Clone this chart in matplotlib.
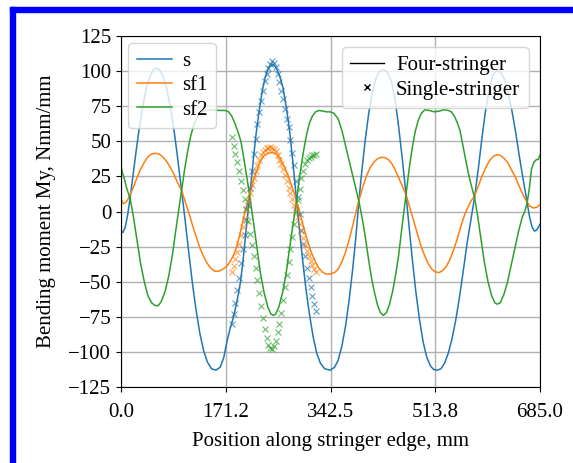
import matplotlib
matplotlib.use("Agg")
import matplotlib.pyplot as plt
from matplotlib.lines import Line2D
from matplotlib.patches import Rectangle

plt.rcParams["font.family"] = ["Liberation Serif", "DejaVu Serif"]
plt.rcParams["font.size"] = 15

# four-stringer model (mm, Nmm/mm)
s_x = [0, 3, 7, 11, 15, 20, 25, 30, 36, 42, 48, 53, 58,
       63, 68, 74, 80, 86, 92, 99, 105, 111, 117, 123, 129, 135, 141, 148, 155,
       162, 168, 173, 178, 184, 190, 195, 199, 203, 206, 209, 213, 217, 221, 226, 231, 236, 241, 247,
       253, 259, 265, 271, 276, 281, 287, 292, 297, 302, 308, 314, 320, 326, 333, 342,
       349, 355, 361, 367, 373, 379, 384, 389, 394, 399, 405, 411, 417, 423, 430,
       436, 442, 448, 454, 460, 466, 471, 476, 482, 488, 494, 500, 506, 511, 517,
       523, 529, 535, 541, 547, 553, 559, 566, 572, 578, 584, 590, 596, 602, 608, 615,
       621, 627, 633, 639, 645, 651, 657, 663, 668, 672, 676, 680, 685]
s_y = [-14, -15, -11, -2, 10, 27, 44, 60, 76, 89, 97, 101, 102,
       101, 97, 89, 76, 60, 40, 15, -7, -30, -52, -71, -87, -99, -107, -112, -113,
       -111, -104, -93, -84, -75, -63, -51, -37, -20, -7, 6, 22, 40, 56, 72, 86, 96, 102, 105,
       103, 97, 88, 72, 56, 35, 8, -14, -35, -54, -73, -89, -101, -108, -112, -113,
       -111, -106, -96, -82, -63, -40, -18, 8, 30, 50, 70, 85, 95, 100, 101,
       99, 93, 80, 60, 37, 12, -11, -33, -57, -77, -93, -104, -110, -112.5, -113,
       -112, -108, -101, -91, -78, -62, -44, -22, -6, 10, 30, 52, 72, 87, 97, 101,
       99, 94, 85, 72, 57, 40, 24, 9, -4, -11, -14, -13, -9]

sf1_x = [0, 4, 9, 14, 20, 26, 32, 38, 44, 50, 56, 62, 68, 74, 80, 86, 92, 99,
         105, 111, 117, 123, 129, 135, 141, 147, 153, 159, 165, 173, 180, 187, 194,
         200, 205, 209, 215, 221, 227, 233, 240, 247, 254, 261, 267, 273, 280, 287,
         293, 299, 305, 311, 317, 323, 329, 335, 342, 349, 355, 361, 367, 373, 380,
         386, 389, 395, 401, 407, 413, 419, 425, 431, 437, 443, 449, 455, 461, 466,
         472, 478, 484, 490, 496, 502, 508, 514, 520, 526, 532, 538, 544, 550, 556,
         562, 568, 573, 578, 584, 590, 596, 602, 608, 614, 620, 626, 632, 638, 644,
         650, 656, 662, 668, 674, 680, 685]
sf1_y = [9, 5.5, 7, 11, 17, 24, 30, 35, 39, 41, 41.5, 41, 39, 36, 32, 27, 21, 15,
         7, -1, -10, -18, -26, -32, -37, -40.5, -42.5, -42.5, -41.5, -39, -34.5, -28, -17,
         -5, 3, 10, 20, 28, 35, 39.5, 41.5, 42, 41, 37, 32, 26, 17, 8,
         -2, -12, -21, -29, -35, -40, -43, -44.5, -44.5, -43.5, -41, -36, -29, -20, -8,
         3, 8, 17, 25, 31, 35, 37.5, 38.5, 38.5, 37, 34, 29, 23, 17, 12,
         3, -6, -15, -24, -31, -37, -41, -43, -43.5, -42, -39, -34, -27, -19, -10,
         -2, 4, 8, 11, 18, 25, 31, 36, 39, 40.5, 40, 38, 35, 30, 25,
         19, 13, 8, 4, 2.5, 3, 5]

sf2_x = [0, 2, 5, 9, 15, 20, 26, 32, 38, 44, 50, 56, 61, 66, 72, 78, 84, 90, 95, 99,
         104, 109, 114, 120, 126, 132, 140, 150, 160, 170, 176, 181, 186, 191, 196,
         200, 204, 208, 211, 217, 223, 228, 234, 240, 245, 249, 253, 258, 264, 270,
         275, 281, 287, 292, 298, 303, 308, 313, 318, 324, 330, 336, 342, 348, 355,
         361, 367, 373, 379, 384, 389, 394, 399, 404, 409, 414, 419, 424, 429, 434,
         439, 444, 449, 454, 458, 462, 466, 471, 476, 481, 486, 491, 497, 504, 512,
         520, 528, 535, 540, 545, 550, 554, 558, 563, 568, 573, 578, 583, 588, 594,
         600, 606, 611, 615, 620, 626, 632, 638, 644, 650, 656, 660, 664, 668, 671,
         675, 679, 682, 685]
sf2_y = [33, 28, 24, 17, 9, -3, -20, -37, -50, -60, -65, -67, -67, -64, -57, -46, -31, -12, 3, 15,
         30, 43, 54, 63, 68, 71, 72, 72.5, 72, 72, 71, 68, 63, 57, 50,
         40, 29, 18, 9, -9, -28, -44, -58, -68, -73, -74, -73, -68, -58, -44,
         -28, -10, 8, 25, 42, 54, 63, 68, 71, 72, 71.5, 71, 71, 70, 66,
         58, 47, 36, 25, 16, 7, -4, -17, -32, -46, -57, -66, -72, -74, -72,
         -66, -57, -45, -31, -16, -2, 12, 30, 45, 57, 65, 70, 72.5, 72, 71,
         71.5, 72.5, 72, 71, 68, 63, 58, 49, 38, 27, 18, 10, -3, -18, -36,
         -50, -60, -65, -66, -65, -59, -50, -38, -26, -14, -4, 0, 6, 18, 30,
         35, 37, 37, 40]

# single-stringer model
ss_x = [181, 184, 187, 190, 193, 196, 199, 202, 205, 208, 211, 214, 217, 220, 223, 226,
        229, 232, 235, 238, 241, 244, 247, 250, 253, 256, 259, 262, 265, 268, 271, 274,
        277, 280, 283, 286, 289, 292, 295, 298, 301, 304, 307, 310, 313, 316, 319]
ss_s = [-80, -73, -65, -56, -47, -37, -27, -17, -6, 5, 17, 29, 41, 52, 62, 71,
        79, 86, 93, 98, 102, 105, 107, 106, 103, 98, 92, 86, 80, 73, 66, 60,
        51, 42, 33, 22, 10, -2, -13, -23, -32, -40, -47, -54, -60, -66, -71]
ss_sf1 = [-43, -39, -34, -29, -23, -17, -11, -5, 1, 7, 13, 19, 24, 29, 33, 37,
          40, 42.5, 44, 45, 45.5, 46, 45.5, 44.5, 43, 40, 37, 34, 30, 26, 22, 17,
          13, 9, 5, 1, -4, -9, -14, -19, -24, -28, -32, -35, -38, -41, -43]
ss_sf2 = [53, 47, 41, 35, 29, 22, 15, 9, 2, -7, -16, -24, -32, -40, -49, -58,
          -67, -76, -84, -90, -95, -97.5, -98, -96, -92, -86, -80, -72, -63, -54, -45, -36,
          -27, -18, -9, 0, 8, 16, 24, 29, 34, 36.5, 38, 39, 40, 40.5, 41]

names = ["s", "sf1", "sf2"]
colors = ["C0", "C1", "C2"]
xticks = [0.0, 171.2, 342.5, 513.8, 685.0]

fig = plt.figure(figsize=(5.73, 4.63), dpi=100)
ax = fig.add_axes([0.2112, 0.1641, 0.7312, 0.7581])

lines = []
for xs, ys, c, n in zip([s_x, sf1_x, sf2_x], [s_y, sf1_y, sf2_y], colors, names):
    l, = ax.plot(xs, ys, color=c, lw=1.1, label=n)
    lines.append(l)
for ys, c in zip([ss_s, ss_sf1, ss_sf2], colors):
    ax.plot(ss_x, ys, "x", color=c, ms=5, mew=0.8, alpha=0.7)

ax.set_xlim(0, 685)
ax.set_ylim(-125, 125)
ax.set_xticks(xticks)
ax.set_xticklabels(["%.1f" % t for t in xticks])
ax.set_yticks(range(-125, 126, 25))
ax.tick_params(axis="x", pad=8)
ax.grid(True, color="#b0b0b0", lw=1.0)
ax.set_xlabel("Position along stringer edge, mm", labelpad=7)
ax.set_ylabel("Bending moment My, Nmm/mm", labelpad=9)

leg1 = ax.legend(handles=lines, loc="upper left", borderaxespad=0.35,
                 handlelength=1.7, handletextpad=0.5, labelspacing=0.22)
ax.add_artist(leg1)
h2 = [Line2D([], [], color="k", lw=1.0),
      Line2D([], [], color="k", ls="none", marker="x", ms=4, mew=1.0)]
ax.legend(handles=h2, labels=["Four-stringer", "Single-stringer"], loc="upper right",
          borderaxespad=0.55, handlelength=1.6, handletextpad=0.6, labelspacing=0.22)

# blue frame around the screenshot (top and left only)
fig.patches.append(Rectangle((10 / 573, 1 - 12 / 463), 1, 5 / 463, transform=fig.transFigure,
                             color="#0000ff", zorder=10))
fig.patches.append(Rectangle((10 / 573, 0), 5 / 573, 1 - 7 / 463, transform=fig.transFigure,
                             color="#0000ff", zorder=10))

fig.savefig("out.png", dpi=100)
